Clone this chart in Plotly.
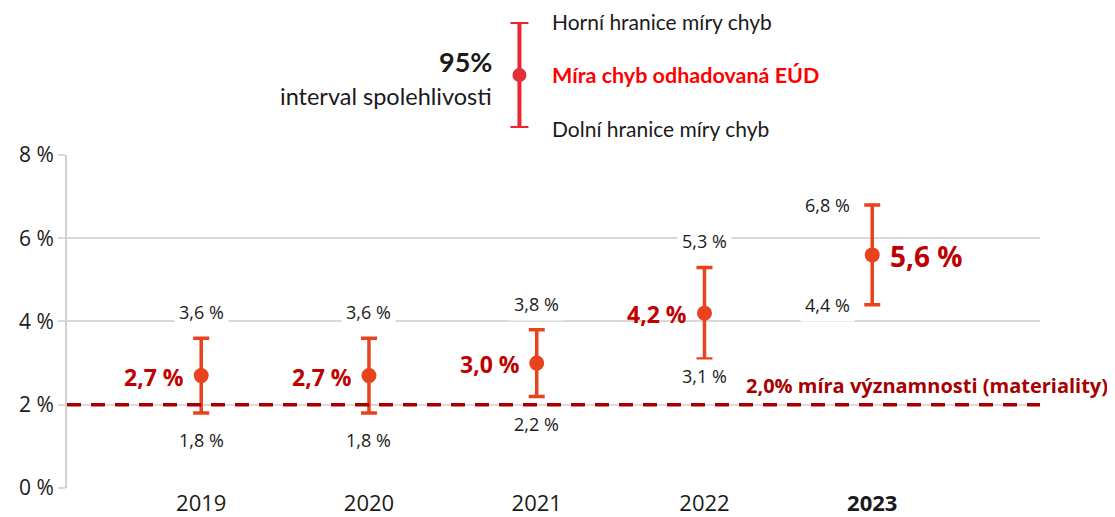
import plotly.graph_objects as go

years = ["2019", "2020", "2021", "2022", "2023"]
rate = [2.7, 2.7, 3.0, 4.2, 5.6]
upper = [3.6, 3.6, 3.8, 5.3, 6.8]
lower = [1.8, 1.8, 2.2, 3.1, 4.4]
materiality = 2.0
y_ticks = [0, 2, 4, 6, 8]
y_ticklabels = ["0 %", "2 %", "4 %", "6 %", "8 %"]
x_ticklabels = ["2019", "2020", "2021", "2022", "<b>2023</b>"]

def fmt(v):
    return f"{v:.1f}".replace(".", ",") + " %"

xs = list(range(len(years)))
ORANGE = "#e8431c"
DARKRED = "#c00000"
LEG_RED = "#ee2430"
FONT = "Open Sans"

fig = go.Figure()

fig.add_trace(go.Scatter(
    x=xs, y=rate, mode="markers",
    marker=dict(color=ORANGE, size=15),
    error_y=dict(type="data", symmetric=False,
                 array=[u - r for u, r in zip(upper, rate)],
                 arrayminus=[r - l for r, l in zip(rate, lower)],
                 color=ORANGE, thickness=3.5, width=8),
    showlegend=False, hoverinfo="skip",
))

# legend glyph
fig.add_trace(go.Scatter(
    x=[0], y=[0], xaxis="x2", yaxis="y2", mode="markers",
    marker=dict(color="#e0303a", size=14),
    error_y=dict(type="data", array=[1], color=LEG_RED, thickness=4, width=9),
    showlegend=False, hoverinfo="skip",
))

ann = []
# value labels
for i, r in enumerate(rate):
    last = i == len(rate) - 1
    ann.append(dict(x=xs[i], y=r, xref="x", yref="y", text=f"<b>{fmt(r)}</b>",
                    showarrow=False, xanchor="left" if last else "right",
                    xshift=16 if last else -15, yshift=-1,
                    font=dict(family=FONT, size=28 if last else 23, color=DARKRED)))
# bound labels
lower_shift = [-27, -27, -28, -17, 0]
for i in range(len(years)):
    last = i == len(years) - 1
    ann.append(dict(x=xs[i], y=upper[i], xref="x", yref="y", text=fmt(upper[i]),
                    showarrow=False, xanchor="center",
                    xshift=-45 if last else 0, yshift=0 if last else 26,
                    bgcolor="white", borderpad=4,
                    font=dict(family=FONT, size=18, color="#1a1a1a")))
    ann.append(dict(x=xs[i], y=lower[i], xref="x", yref="y", text=fmt(lower[i]),
                    showarrow=False, xanchor="center",
                    xshift=-45 if last else 0, yshift=lower_shift[i],
                    bgcolor="white", borderpad=4,
                    font=dict(family=FONT, size=18, color="#1a1a1a")))
# materiality label
ann.append(dict(x=1, y=materiality, xref="paper", yref="y",
                text="<b>2,0% míra významnosti (materiality)</b>",
                showarrow=False, xanchor="right", xshift=70, yshift=19,
                font=dict(family=FONT, size=20, color="#a80000")))
# legend texts
LFONT = "Lato"
ann += [
    dict(x=0, y=1, xref="x2", yref="y2", text="Horní hranice míry chyb", showarrow=False,
         xanchor="left", xshift=31, font=dict(family=LFONT, size=21, color="#1a1a1a")),
    dict(x=0, y=0, xref="x2", yref="y2", text="<b>Míra chyb odhadovaná EÚD</b>", showarrow=False,
         xanchor="left", xshift=31, font=dict(family=LFONT, size=21.5, color="#ff0000")),
    dict(x=0, y=-1, xref="x2", yref="y2", text="Dolní hranice míry chyb", showarrow=False,
         xanchor="left", xshift=31, font=dict(family=LFONT, size=21, color="#1a1a1a")),
    dict(x=0, y=0, xref="x2", yref="y2", text="<b>95%</b>", showarrow=False,
         xanchor="right", xshift=-25, yshift=14, font=dict(family=LFONT, size=27, color="#1a1a1a")),
    dict(x=0, y=0, xref="x2", yref="y2", text="interval spolehlivosti", showarrow=False,
         xanchor="right", xshift=-25, yshift=-21, font=dict(family=LFONT, size=23.5, color="#1a1a1a")),
]

# page body has an 8px margin: figure is sized to fit the 1115x517 window
fig.update_layout(
    width=1107, height=509,
    margin=dict(l=59, r=75, t=2, b=29, autoexpand=False),
    paper_bgcolor="white", plot_bgcolor="white",
    font=dict(family=FONT, color="#1a1a1a"),
    annotations=ann,
    shapes=[dict(type="line", xref="paper", yref="y", x0=0, x1=1,
                 y0=materiality, y1=materiality,
                 line=dict(color="#a80000", width=3.5, dash="14px,10px"))],
    xaxis=dict(range=[-0.8, 5.0], tickmode="array", tickvals=xs, ticktext=x_ticklabels,
               showgrid=False, zeroline=False, showline=False, ticks="", automargin=False,
               tickfont=dict(size=22, family=FONT, color="#1a1a1a"), fixedrange=True),
    yaxis=dict(domain=[0, 0.6967], range=[0, 8], tickmode="array", tickvals=y_ticks,
               ticktext=y_ticklabels, showgrid=True, gridcolor="#d9d9d9", gridwidth=1.5,
               zeroline=False, showline=True, linecolor="#d0d0d0", linewidth=2,
               ticks="outside", ticklen=7, tickcolor="#d9d9d9", tickwidth=1.5, automargin=False,
               tickfont=dict(size=21, family=FONT, color="#1a1a1a"), fixedrange=True),
    xaxis2=dict(domain=[0.44, 0.49], range=[-1, 1], visible=False, anchor="y2"),
    yaxis2=dict(domain=[0.7531, 0.9749], range=[-1, 1], visible=False, anchor="x2"),
)

fig.write_html("out.html")
